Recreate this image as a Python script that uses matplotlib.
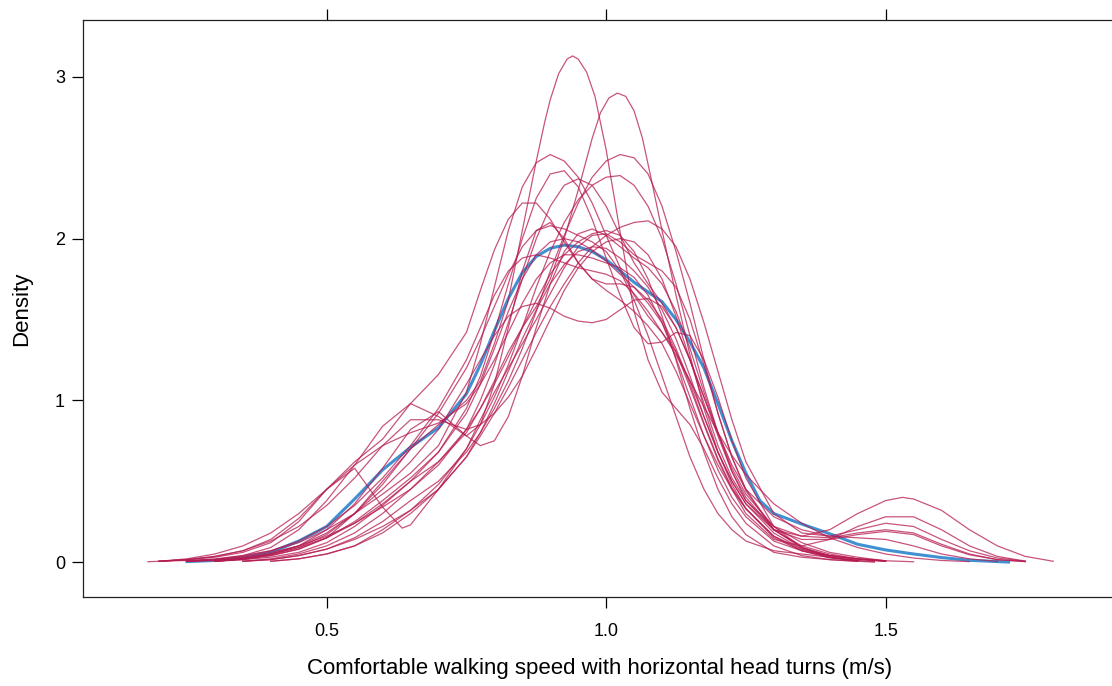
import numpy as np
import matplotlib
matplotlib.use("Agg")
import matplotlib.pyplot as plt

obs = [(0.25, 0.003), (0.30, 0.01), (0.35, 0.025), (0.40, 0.06), (0.45, 0.13), (0.50, 0.22),
       (0.55, 0.39), (0.60, 0.57), (0.65, 0.71), (0.70, 0.83), (0.75, 1.04), (0.775, 1.22),
       (0.80, 1.43), (0.825, 1.63), (0.85, 1.79), (0.875, 1.89), (0.90, 1.94), (0.925, 1.96),
       (0.95, 1.95), (0.975, 1.92), (1.00, 1.87), (1.025, 1.80), (1.05, 1.73), (1.075, 1.67),
       (1.10, 1.61), (1.125, 1.50), (1.15, 1.36), (1.175, 1.20), (1.20, 0.98), (1.225, 0.75),
       (1.25, 0.55), (1.275, 0.38), (1.30, 0.30), (1.35, 0.235), (1.40, 0.175), (1.45, 0.11),
       (1.50, 0.075), (1.55, 0.05), (1.60, 0.028), (1.65, 0.011), (1.70, 0.003), (1.72, 0.0)]

imp01 = [(0.25, 0.005), (0.30, 0.01), (0.35, 0.02), (0.40, 0.04), (0.45, 0.08), (0.50, 0.15),
         (0.55, 0.30), (0.60, 0.50), (0.65, 0.70), (0.70, 0.85), (0.75, 1.00), (0.775, 1.12),
         (0.80, 1.35), (0.825, 1.62), (0.85, 2.05), (0.875, 2.48), (0.89, 2.72), (0.90, 2.86),
         (0.915, 3.02), (0.93, 3.11), (0.94, 3.13), (0.95, 3.11), (0.965, 3.03), (0.98, 2.88),
         (1.00, 2.55), (1.025, 2.04), (1.05, 1.55), (1.075, 1.25), (1.10, 1.05), (1.125, 0.95),
         (1.15, 0.85), (1.175, 0.70), (1.20, 0.52), (1.225, 0.36), (1.25, 0.24), (1.30, 0.10),
         (1.35, 0.04), (1.40, 0.015), (1.45, 0.004)]
imp02 = [(0.30, 0.005), (0.35, 0.015), (0.40, 0.03), (0.45, 0.06), (0.50, 0.12), (0.55, 0.22),
         (0.60, 0.35), (0.65, 0.50), (0.70, 0.62), (0.75, 0.80), (0.775, 0.95), (0.80, 1.12),
         (0.825, 1.30), (0.85, 1.45), (0.875, 1.58), (0.90, 1.75), (0.925, 2.00), (0.95, 2.30),
         (0.975, 2.62), (0.99, 2.78), (1.005, 2.87), (1.02, 2.90), (1.035, 2.88), (1.05, 2.79),
         (1.065, 2.62), (1.08, 2.38), (1.10, 2.05), (1.125, 1.65), (1.15, 1.28), (1.175, 0.95),
         (1.20, 0.68), (1.225, 0.48), (1.25, 0.33), (1.30, 0.16), (1.35, 0.08), (1.40, 0.04),
         (1.45, 0.02), (1.50, 0.006)]
imp03 = [(0.20, 0.005), (0.25, 0.01), (0.30, 0.02), (0.35, 0.04), (0.40, 0.07), (0.45, 0.12),
         (0.50, 0.20), (0.55, 0.30), (0.60, 0.42), (0.65, 0.55), (0.70, 0.72), (0.75, 1.05),
         (0.775, 1.35), (0.80, 1.70), (0.825, 2.05), (0.85, 2.32), (0.875, 2.47), (0.90, 2.52),
         (0.925, 2.48), (0.95, 2.38), (0.975, 2.22), (1.00, 2.02), (1.025, 1.82), (1.05, 1.65),
         (1.075, 1.52), (1.10, 1.42), (1.125, 1.30), (1.15, 1.12), (1.175, 0.90), (1.20, 0.68),
         (1.225, 0.50), (1.25, 0.36), (1.30, 0.18), (1.35, 0.08), (1.40, 0.03), (1.45, 0.008)]
imp04 = [(0.35, 0.005), (0.40, 0.015), (0.45, 0.04), (0.50, 0.08), (0.55, 0.15), (0.60, 0.25),
         (0.65, 0.38), (0.70, 0.50), (0.75, 0.68), (0.775, 0.80), (0.80, 0.95), (0.825, 1.12),
         (0.85, 1.32), (0.875, 1.55), (0.90, 1.80), (0.925, 2.02), (0.95, 2.22), (0.975, 2.38),
         (1.00, 2.48), (1.025, 2.52), (1.05, 2.50), (1.075, 2.40), (1.10, 2.20), (1.125, 1.92),
         (1.15, 1.60), (1.175, 1.25), (1.20, 0.92), (1.225, 0.65), (1.25, 0.45), (1.30, 0.20),
         (1.35, 0.09), (1.40, 0.04), (1.45, 0.02), (1.50, 0.008)]
imp05 = [(0.40, 0.005), (0.45, 0.02), (0.50, 0.05), (0.55, 0.10), (0.60, 0.20), (0.65, 0.32),
         (0.70, 0.48), (0.75, 0.70), (0.775, 0.85), (0.80, 1.02), (0.825, 1.22), (0.85, 1.45),
         (0.875, 1.70), (0.90, 1.92), (0.925, 2.10), (0.95, 2.24), (0.975, 2.33), (1.00, 2.38),
         (1.025, 2.39), (1.05, 2.33), (1.075, 2.20), (1.10, 2.00), (1.125, 1.72), (1.15, 1.40),
         (1.175, 1.08), (1.20, 0.80), (1.225, 0.56), (1.25, 0.38), (1.30, 0.20), (1.35, 0.14),
         (1.40, 0.14), (1.45, 0.17), (1.50, 0.19), (1.55, 0.17), (1.60, 0.10), (1.65, 0.045),
         (1.70, 0.015), (1.75, 0.003)]
imp06 = [(0.25, 0.005), (0.30, 0.015), (0.35, 0.03), (0.40, 0.06), (0.45, 0.10), (0.50, 0.16),
         (0.55, 0.24), (0.60, 0.34), (0.65, 0.45), (0.70, 0.60), (0.75, 0.82), (0.775, 1.00),
         (0.80, 1.22), (0.825, 1.48), (0.85, 1.75), (0.875, 2.00), (0.90, 2.20), (0.925, 2.33),
         (0.95, 2.37), (0.975, 2.33), (1.00, 2.20), (1.025, 2.02), (1.05, 1.85), (1.075, 1.72),
         (1.10, 1.60), (1.125, 1.45), (1.15, 1.25), (1.175, 1.02), (1.20, 0.78), (1.225, 0.56),
         (1.25, 0.40), (1.30, 0.20), (1.35, 0.10), (1.40, 0.05), (1.45, 0.02), (1.50, 0.005)]
imp07 = [(0.20, 0.005), (0.25, 0.015), (0.30, 0.035), (0.35, 0.07), (0.40, 0.14), (0.45, 0.27),
         (0.50, 0.45), (0.55, 0.62), (0.60, 0.76), (0.65, 0.98), (0.70, 1.16), (0.75, 1.42),
         (0.775, 1.68), (0.80, 1.93), (0.825, 2.12), (0.85, 2.22), (0.875, 2.22), (0.90, 2.12),
         (0.925, 1.98), (0.95, 1.85), (0.975, 1.75), (1.00, 1.68), (1.025, 1.62), (1.05, 1.55),
         (1.075, 1.46), (1.10, 1.35), (1.125, 1.18), (1.15, 0.98), (1.175, 0.78), (1.20, 0.60),
         (1.225, 0.45), (1.25, 0.33), (1.30, 0.16), (1.35, 0.07), (1.40, 0.025), (1.45, 0.008)]
imp08 = [(0.25, 0.005), (0.30, 0.015), (0.35, 0.04), (0.40, 0.09), (0.45, 0.20), (0.50, 0.38),
         (0.55, 0.60), (0.60, 0.84), (0.65, 0.98), (0.70, 0.90), (0.75, 0.78), (0.775, 0.85),
         (0.80, 1.10), (0.825, 1.45), (0.85, 1.80), (0.875, 2.05), (0.90, 2.10), (0.925, 2.00),
         (0.95, 1.85), (0.975, 1.75), (1.00, 1.72), (1.025, 1.72), (1.05, 1.70), (1.075, 1.62),
         (1.10, 1.50), (1.125, 1.32), (1.15, 1.10), (1.175, 0.86), (1.20, 0.64), (1.225, 0.46),
         (1.25, 0.33), (1.30, 0.15), (1.35, 0.07), (1.40, 0.03), (1.45, 0.008)]
imp09 = [(0.30, 0.005), (0.35, 0.02), (0.40, 0.05), (0.45, 0.10), (0.50, 0.20), (0.55, 0.36),
         (0.60, 0.58), (0.65, 0.82), (0.70, 0.93), (0.75, 0.78), (0.775, 0.72), (0.80, 0.75),
         (0.825, 0.90), (0.85, 1.15), (0.875, 1.45), (0.90, 1.72), (0.925, 1.92), (0.95, 2.03),
         (0.975, 2.06), (1.00, 2.02), (1.025, 1.95), (1.05, 1.88), (1.075, 1.82), (1.10, 1.72),
         (1.125, 1.55), (1.15, 1.32), (1.175, 1.05), (1.20, 0.80), (1.225, 0.58), (1.25, 0.42),
         (1.30, 0.22), (1.35, 0.12), (1.40, 0.06), (1.45, 0.03), (1.50, 0.008)]
imp10 = [(0.20, 0.005), (0.25, 0.015), (0.30, 0.03), (0.35, 0.06), (0.40, 0.12), (0.45, 0.25),
         (0.50, 0.45), (0.55, 0.58), (0.60, 0.34), (0.635, 0.21), (0.65, 0.23), (0.70, 0.45),
         (0.75, 0.70), (0.775, 0.88), (0.80, 1.05), (0.825, 1.20), (0.85, 1.35), (0.875, 1.50),
         (0.90, 1.66), (0.925, 1.82), (0.95, 1.95), (0.975, 2.02), (1.00, 2.03), (1.025, 1.98),
         (1.05, 1.90), (1.075, 1.85), (1.10, 1.80), (1.125, 1.70), (1.15, 1.50), (1.175, 1.22),
         (1.20, 0.92), (1.225, 0.65), (1.25, 0.44), (1.30, 0.20), (1.35, 0.09), (1.40, 0.04),
         (1.45, 0.015), (1.50, 0.004)]
imp11 = [(0.30, 0.005), (0.35, 0.02), (0.40, 0.05), (0.45, 0.10), (0.50, 0.18), (0.55, 0.30),
         (0.60, 0.45), (0.65, 0.62), (0.70, 0.82), (0.75, 1.10), (0.775, 1.25), (0.80, 1.40),
         (0.825, 1.52), (0.85, 1.58), (0.875, 1.60), (0.90, 1.57), (0.925, 1.52), (0.95, 1.49),
         (0.975, 1.48), (1.00, 1.50), (1.025, 1.56), (1.05, 1.62), (1.075, 1.63), (1.10, 1.58),
         (1.125, 1.45), (1.15, 1.25), (1.175, 1.02), (1.20, 0.80), (1.225, 0.60), (1.25, 0.45),
         (1.30, 0.28), (1.35, 0.20), (1.40, 0.16), (1.45, 0.15), (1.50, 0.14), (1.55, 0.10),
         (1.60, 0.05), (1.65, 0.02), (1.70, 0.004)]
imp12 = [(0.25, 0.005), (0.30, 0.01), (0.35, 0.025), (0.40, 0.05), (0.45, 0.09), (0.50, 0.15),
         (0.55, 0.24), (0.60, 0.36), (0.65, 0.50), (0.70, 0.68), (0.75, 0.95), (0.775, 1.15),
         (0.80, 1.42), (0.825, 1.72), (0.85, 2.00), (0.875, 2.25), (0.90, 2.40), (0.925, 2.42),
         (0.95, 2.32), (0.975, 2.12), (1.00, 1.88), (1.025, 1.65), (1.05, 1.45), (1.075, 1.35),
         (1.10, 1.36), (1.125, 1.42), (1.15, 1.40), (1.175, 1.25), (1.20, 1.02), (1.225, 0.75),
         (1.25, 0.52), (1.30, 0.22), (1.35, 0.09), (1.40, 0.03), (1.45, 0.008)]
imp13 = [(0.40, 0.005), (0.45, 0.02), (0.50, 0.05), (0.55, 0.10), (0.60, 0.18), (0.65, 0.30),
         (0.70, 0.45), (0.75, 0.65), (0.775, 0.78), (0.80, 0.92), (0.825, 1.08), (0.85, 1.25),
         (0.875, 1.42), (0.90, 1.58), (0.925, 1.72), (0.95, 1.85), (0.975, 1.95), (1.00, 2.02),
         (1.025, 2.07), (1.05, 2.10), (1.075, 2.11), (1.10, 2.06), (1.125, 1.95), (1.15, 1.75),
         (1.175, 1.48), (1.20, 1.18), (1.225, 0.88), (1.25, 0.62), (1.30, 0.30), (1.35, 0.18),
         (1.40, 0.16), (1.45, 0.20), (1.50, 0.24), (1.55, 0.22), (1.60, 0.14), (1.65, 0.07),
         (1.70, 0.025), (1.75, 0.005)]
imp14 = [(0.35, 0.005), (0.40, 0.015), (0.45, 0.04), (0.50, 0.08), (0.55, 0.14), (0.60, 0.22),
         (0.65, 0.32), (0.70, 0.45), (0.75, 0.65), (0.775, 0.80), (0.80, 0.98), (0.825, 1.18),
         (0.85, 1.38), (0.875, 1.56), (0.90, 1.72), (0.925, 1.84), (0.95, 1.92), (0.975, 1.95),
         (1.00, 1.94), (1.025, 1.88), (1.05, 1.80), (1.075, 1.70), (1.10, 1.56), (1.125, 1.38),
         (1.15, 1.15), (1.175, 0.90), (1.20, 0.68), (1.225, 0.50), (1.25, 0.36), (1.30, 0.20),
         (1.35, 0.16), (1.40, 0.20), (1.45, 0.30), (1.50, 0.38), (1.53, 0.40), (1.55, 0.39),
         (1.60, 0.32), (1.65, 0.20), (1.70, 0.10), (1.75, 0.035), (1.80, 0.005)]
imp15 = [(0.30, 0.005), (0.35, 0.015), (0.40, 0.04), (0.45, 0.08), (0.50, 0.15), (0.55, 0.25),
         (0.60, 0.38), (0.65, 0.52), (0.70, 0.68), (0.75, 0.92), (0.775, 1.10), (0.80, 1.32),
         (0.825, 1.55), (0.85, 1.75), (0.875, 1.90), (0.90, 1.98), (0.925, 2.00), (0.95, 1.98),
         (0.975, 1.93), (1.00, 1.86), (1.025, 1.78), (1.05, 1.70), (1.075, 1.60), (1.10, 1.48),
         (1.125, 1.30), (1.15, 1.08), (1.175, 0.85), (1.20, 0.63), (1.225, 0.45), (1.25, 0.30),
         (1.30, 0.14), (1.35, 0.10), (1.40, 0.14), (1.45, 0.22), (1.50, 0.28), (1.55, 0.28),
         (1.60, 0.20), (1.65, 0.10), (1.70, 0.035), (1.75, 0.006)]
imp16 = [(0.35, 0.005), (0.40, 0.02), (0.45, 0.05), (0.50, 0.10), (0.55, 0.18), (0.60, 0.30),
         (0.65, 0.45), (0.70, 0.62), (0.75, 0.82), (0.775, 0.95), (0.80, 1.10), (0.825, 1.27),
         (0.85, 1.45), (0.875, 1.62), (0.90, 1.78), (0.925, 1.90), (0.95, 1.98), (0.975, 2.03),
         (1.00, 2.05), (1.025, 2.02), (1.05, 1.92), (1.075, 1.75), (1.10, 1.52), (1.125, 1.25),
         (1.15, 0.95), (1.175, 0.68), (1.20, 0.45), (1.225, 0.28), (1.25, 0.17), (1.30, 0.06),
         (1.35, 0.03), (1.40, 0.015), (1.45, 0.005), (1.48, 0.0)]
imp17 = [(0.30, 0.005), (0.35, 0.02), (0.40, 0.045), (0.45, 0.09), (0.50, 0.17), (0.55, 0.30),
         (0.60, 0.48), (0.65, 0.70), (0.70, 0.92), (0.75, 1.20), (0.775, 1.38), (0.80, 1.58),
         (0.825, 1.78), (0.85, 1.95), (0.875, 2.05), (0.90, 2.08), (0.925, 2.06), (0.95, 2.02),
         (0.975, 1.98), (1.00, 1.92), (1.025, 1.80), (1.05, 1.62), (1.075, 1.40), (1.10, 1.15),
         (1.125, 0.90), (1.15, 0.65), (1.175, 0.45), (1.20, 0.30), (1.225, 0.20), (1.25, 0.13),
         (1.30, 0.07), (1.35, 0.05), (1.40, 0.03), (1.45, 0.01), (1.48, 0.002)]
imp18 = [(0.20, 0.005), (0.25, 0.015), (0.30, 0.035), (0.35, 0.07), (0.40, 0.13), (0.45, 0.22),
         (0.50, 0.35), (0.55, 0.52), (0.60, 0.72), (0.65, 0.88), (0.70, 0.88), (0.75, 0.82),
         (0.775, 0.85), (0.80, 0.92), (0.825, 1.02), (0.85, 1.15), (0.875, 1.32), (0.90, 1.50),
         (0.925, 1.68), (0.95, 1.82), (0.975, 1.92), (1.00, 1.98), (1.025, 2.00), (1.05, 1.98),
         (1.075, 1.90), (1.10, 1.75), (1.125, 1.52), (1.15, 1.25), (1.175, 0.98), (1.20, 0.72),
         (1.225, 0.52), (1.25, 0.38), (1.30, 0.22), (1.35, 0.16), (1.40, 0.15), (1.45, 0.18),
         (1.50, 0.20), (1.55, 0.18), (1.60, 0.11), (1.65, 0.05), (1.70, 0.015), (1.75, 0.003)]
imp19 = [(0.25, 0.005), (0.30, 0.015), (0.35, 0.035), (0.40, 0.07), (0.45, 0.13), (0.50, 0.22),
         (0.55, 0.35), (0.60, 0.52), (0.65, 0.72), (0.70, 0.95), (0.75, 1.25), (0.775, 1.45),
         (0.80, 1.65), (0.825, 1.80), (0.85, 1.88), (0.875, 1.90), (0.90, 1.88), (0.925, 1.85),
         (0.95, 1.82), (0.975, 1.80), (1.00, 1.78), (1.025, 1.74), (1.05, 1.66), (1.075, 1.55),
         (1.10, 1.42), (1.125, 1.28), (1.15, 1.12), (1.175, 0.96), (1.20, 0.80), (1.225, 0.66),
         (1.25, 0.54), (1.30, 0.36), (1.35, 0.24), (1.40, 0.15), (1.45, 0.09), (1.50, 0.05),
         (1.55, 0.025), (1.60, 0.01), (1.65, 0.003)]
imp20 = [(0.18, 0.002), (0.20, 0.005), (0.25, 0.02), (0.30, 0.05), (0.35, 0.10), (0.40, 0.18),
         (0.45, 0.30), (0.50, 0.45), (0.55, 0.60), (0.60, 0.72), (0.65, 0.80), (0.70, 0.86),
         (0.75, 0.98), (0.775, 1.10), (0.80, 1.25), (0.825, 1.42), (0.85, 1.60), (0.875, 1.75),
         (0.90, 1.85), (0.925, 1.90), (0.95, 1.90), (0.975, 1.88), (1.00, 1.85), (1.025, 1.82),
         (1.05, 1.76), (1.075, 1.65), (1.10, 1.48), (1.125, 1.26), (1.15, 1.02), (1.175, 0.78),
         (1.20, 0.57), (1.225, 0.40), (1.25, 0.28), (1.30, 0.13), (1.35, 0.07), (1.40, 0.04),
         (1.45, 0.02), (1.50, 0.008), (1.55, 0.002)]

imputed = [imp01, imp02, imp03, imp04, imp05, imp06, imp07, imp08, imp09, imp10,
           imp11, imp12, imp13, imp14, imp15, imp16, imp17, imp18, imp19, imp20]

x_ticks = [0.5, 1.0, 1.5]
x_ticklabels = ["0.5", "1.0", "1.5"]
y_ticks = [0, 1, 2, 3]

xlab = "Comfortable walking speed with horizontal head turns (m/s)"
ylab = "Density"

obs_col = "#006CC2"
imp_col = "#B61A51"

plt.rcParams['font.family'] = ['Liberation Sans', 'DejaVu Sans']

fig = plt.figure(figsize=(11.12, 6.86), dpi=100)
# panel runs a little past the right edge of the picture
ax = fig.add_axes([83/1112, 89/686, 1034/1112, 577/686])

xy = np.array(obs)
ax.plot(xy[:, 0], xy[:, 1], color=obs_col, alpha=0.75, lw=2.2, zorder=2)
for curve in imputed:
    xy = np.array(curve)
    ax.plot(xy[:, 0], xy[:, 1], color=imp_col, alpha=0.75, lw=0.9, zorder=3)

ax.set_xlim(0.064, 1.914)
ax.set_ylim(-0.216, 3.352)

ax.set_xticks(x_ticks)
ax.set_xticklabels(x_ticklabels)
ax.set_yticks(y_ticks)
ax.tick_params(axis='x', which='both', top=True, bottom=True, labeltop=False,
               direction='out', length=8, width=0.9, labelsize=13, pad=11)
ax.tick_params(axis='y', which='both', left=True, right=False,
               direction='out', length=8, width=0.9, labelsize=13, pad=5)
for s in ax.spines.values():
    s.set_linewidth(0.9)
    s.set_color('#222222')

ax.set_xlabel(xlab, fontsize=16, labelpad=13)
ax.set_ylabel(ylab, fontsize=16, labelpad=16)

fig.savefig("out.png", dpi=100)
